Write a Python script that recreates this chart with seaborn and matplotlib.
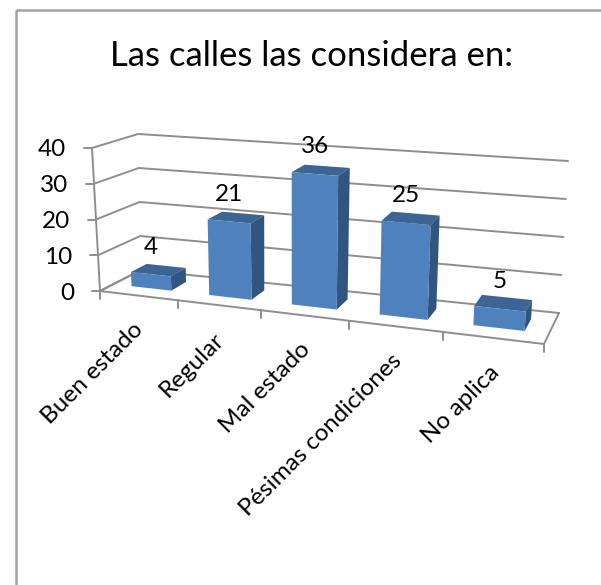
#!/usr/bin/env python3
"""
Las calles las considera en: 3D looking column chart
Bars come from seaborn, a small projection bends them into the Excel perspective
"""

import numpy as np
import pandas as pd
import matplotlib
matplotlib.use('Agg')
import matplotlib.pyplot as plt
from matplotlib.patches import Polygon, Rectangle
from matplotlib.transforms import Affine2D, Transform
import seaborn as sns

# Data
categories = ['Buen estado', 'Regular', 'Mal estado', 'Pésimas condiciones', 'No aplica']
values = [4, 21, 36, 25, 5]
y_ticks = [0, 10, 20, 30, 40]
title = 'Las calles las considera en:'

W, H = 601, 585
FRONT = '#4F81BD'
TOP = '#3C6596'
SIDE = '#31557F'
GRID = '#8E8E8E'

# Pixel corners of the chart box: (depth, height) at left and right
LEFT = {(0, 0): (100, 291), (0, 1): (92, 148), (1, 0): (141, 270), (1, 1): (138, 134)}
RIGHT = {(0, 0): (544, 344), (0, 1): (553, 186), (1, 0): (559, 313), (1, 1): (568, 161)}
K = 0.146  # perspective along the category axis


def project(x, val, depth):
    """category position, value, depth (0 front, 1 back) -> pixels"""
    x, val = np.asarray(x, float), np.asarray(val, float)
    u = (x + 0.5) / len(categories)
    u = u * (1 - K) / (1 - K * u)
    z = val / y_ticks[-1]
    out = []
    for c in (0, 1):
        low_l = (1 - depth) * LEFT[(0, 0)][c] + depth * LEFT[(1, 0)][c]
        top_l = (1 - depth) * LEFT[(0, 1)][c] + depth * LEFT[(1, 1)][c]
        low_r = (1 - depth) * RIGHT[(0, 0)][c] + depth * RIGHT[(1, 0)][c]
        top_r = (1 - depth) * RIGHT[(0, 1)][c] + depth * RIGHT[(1, 1)][c]
        left = low_l + (top_l - low_l) * z
        right = low_r + (top_r - low_r) * z
        out.append(left + (right - left) * u)
    return np.column_stack(out)


class FrontFace(Transform):
    input_dims = output_dims = 2

    def __init__(self, bar_depth):
        super().__init__()
        self.bar_depth = bar_depth

    def transform_non_affine(self, xy):
        xy = np.asarray(xy)
        return project(xy[:, 0], xy[:, 1], self.bar_depth)


def main():
    sns.set_theme(style='white')
    plt.rcParams['font.family'] = ['Lato', 'DejaVu Sans']

    fig = plt.figure(figsize=(W / 100, H / 100), dpi=100)
    ax = fig.add_axes([0, 0, 1, 1])
    df = pd.DataFrame({'cat': categories, 'val': values})
    sns.barplot(data=df, x='cat', y='val', color=FRONT, saturation=1, width=0.52, ax=ax)
    bars = list(ax.patches)
    ax.set_xlim(0, W)
    ax.set_ylim(H, 0)
    ax.set_xlabel('')
    ax.set_ylabel('')
    ax.set_xticks([])
    ax.set_yticks([])
    sns.despine(ax=ax, left=True, bottom=True)
    px = Affine2D().scale(1, -1).translate(0, H)  # pixel coords -> display

    def line(pts, **kw):
        pts = np.asarray(pts)
        ax.plot(pts[:, 0], pts[:, 1], color=GRID, lw=1.4, zorder=1, solid_capstyle='round', **kw)

    # Chart frame
    ax.add_patch(Rectangle((15.5, 9.5), 700, 700, fill=False, ec='#A3A3A3', lw=1.8, zorder=0))
    ax.text(311, 56, title, fontsize=25, ha='center', va='center', color='black')

    # Walls and gridlines
    x0, x1 = -0.5, len(categories) - 0.5
    for t in y_ticks:
        line([project(x0, t, 0)[0], project(x0, t, 1)[0], project(x1, t, 1)[0]])
        fl = project(x0, t, 0)[0]
        line([fl, fl + [-8, 0]])
        ax.text(fl[0] - 26, fl[1] + 2, str(t), fontsize=17.5, ha='right', va='center', color='black')
    line([project(x0, 0, 0)[0], project(x0, y_ticks[-1], 0)[0]])
    line([project(x0, 0, 1)[0], project(x0, 0, 0)[0], project(x1, 0, 0)[0], project(x1, 0, 1)[0]])

    # Category ticks and labels
    for i in range(len(categories) + 1):
        p = project(i - 0.5, 0, 0)[0]
        line([p, p + [0, 8]])
    for i, cat in enumerate(categories):
        p = project(i + 0.12, 0, 0)[0]
        ax.text(p[0] - 16, p[1] + 22, cat, fontsize=17.5, rotation=45, rotation_mode='anchor',
                ha='right', va='top', color='black')

    # Bars: seaborn rectangles get projected, top and side come from their extents
    d0, d1 = 0.33, 0.72
    for i, bar in enumerate(bars):
        left, right, val = bar.get_x(), bar.get_x() + bar.get_width(), bar.get_height()
        bar.set_transform(FrontFace(d0) + px)
        bar.set_clip_on(False)
        bar.set_linewidth(0)
        bar.set_zorder(4)
        top = np.vstack([project(left, val, d0), project(right, val, d0),
                         project(right, val, d1), project(left, val, d1)])
        side = np.vstack([project(right, 0, d0), project(right, val, d0),
                          project(right, val, d1), project(right, 0, d1)])
        ax.add_patch(Polygon(top, fc=TOP, ec='none', zorder=3))
        ax.add_patch(Polygon(side, fc=SIDE, ec='none', zorder=3))
        p = project((left + right) / 2, val, d0)[0]
        ax.text(p[0], p[1] - 27, str(values[i]), fontsize=17.5, ha='center', va='center',
                color='black', zorder=2)

    fig.savefig('out.png', dpi=100)


if __name__ == "__main__":
    main()
